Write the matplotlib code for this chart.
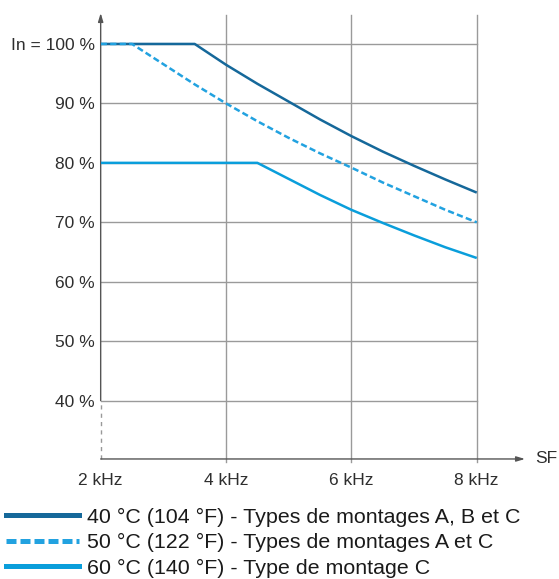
import matplotlib.pyplot as plt
from matplotlib.lines import Line2D

plt.rcParams['font.family'] = ['Liberation Sans', 'DejaVu Sans']

# courbes de déclassement (fréquence de découpage en kHz, courant en % de In)
f_40 = [2, 3.5, 4, 4.5, 5, 5.5, 6, 6.5, 7, 7.5, 8]
i_40 = [100, 100, 96.5, 93.3, 90.3, 87.3, 84.5, 81.9, 79.5, 77.2, 75]
f_50 = [2, 2.5, 3, 3.5, 4, 4.5, 5, 5.5, 6, 6.5, 7, 7.5, 8]
i_50 = [100, 100, 96.6, 93.2, 90, 87, 84.2, 81.6, 79.2, 76.7, 74.4, 72.1, 70]
f_60 = [2, 4.5, 5, 5.5, 6, 6.5, 7, 7.5, 8]
i_60 = [80, 80, 77.3, 74.6, 72.1, 69.9, 67.8, 65.8, 64]

x_ticks = [2, 4, 6, 8]
x_labels = ['2 kHz', '4 kHz', '6 kHz', '8 kHz']
y_ticks = [40, 50, 60, 70, 80, 90, 100]
y_labels = ['40 %', '50 %', '60 %', '70 %', '80 %', '90 %', 'In = 100 %']
labels = ['40 °C (104 °F) - Types de montages A, B et C',
          '50 °C (122 °F) - Types de montages A et C',
          '60 °C (140 °F) - Type de montage C']

dark = '#15689a'
light = '#22a2e0'
cyan = '#0a9edb'
grid_c = '#9a9a9a'
txt = '#2e2e2e'

fig = plt.figure(figsize=(5.59, 5.79), dpi=100)
ax = fig.add_axes([0.1801, 0.2073, 0.7591, 0.7702])
x_min, x_max = 2, 8.77
y_min, y_max = 30.2, 105.2
ax.set_xlim(x_min, x_max)
ax.set_ylim(y_min, y_max)
for s in ax.spines.values():
    s.set_visible(False)

# grille
for x in x_ticks[1:]:
    ax.plot([x, x], [y_min - 0.5, 104.9], color=grid_c, lw=1.0, zorder=1, clip_on=False)
for y in y_ticks:
    ax.plot([2, 8], [y, y], color=grid_c, lw=1.0, zorder=1)

# axes avec flèches
ax.annotate('', xy=(x_max, y_min), xytext=(2, y_min),
            arrowprops=dict(arrowstyle='-|>,head_length=0.5,head_width=0.15', color='#555555', lw=1.0,
                            shrinkA=0, shrinkB=0), annotation_clip=False)
ax.annotate('', xy=(2, y_max), xytext=(2, 40),
            arrowprops=dict(arrowstyle='-|>,head_length=0.5,head_width=0.15', color='#555555', lw=1.0,
                            shrinkA=0, shrinkB=0), annotation_clip=False)
ax.plot([2, 2], [y_min, 40], color='#999999', lw=1.0, ls=(0, (3, 3)), clip_on=False)
ax.text(8.93, y_min, 'SF', ha='left', va='center', fontsize=12.5, color=txt)

# courbes
ax.plot(f_40, i_40, color=dark, lw=1.8, zorder=3, solid_capstyle='butt')
ax.plot(f_50, i_50, color=light, lw=1.8, ls=(0, (2.5, 1.3)), zorder=4)
ax.plot(f_60, i_60, color=cyan, lw=1.8, zorder=3, solid_capstyle='butt')

ax.set_xticks(x_ticks)
ax.set_xticklabels(x_labels)
ax.set_yticks(y_ticks)
ax.set_yticklabels(y_labels)
ax.tick_params(length=0, labelsize=12.5, labelcolor=txt)
ax.tick_params(axis='x', pad=10)
ax.tick_params(axis='y', pad=4)

# légende
handles = [Line2D([], [], color=dark, lw=3.6),
           Line2D([], [], color=light, lw=3.6, ls=(0, (2, 0.8))),
           Line2D([], [], color=cyan, lw=3.6)]
fig.legend(handles, labels, loc='upper left', bbox_to_anchor=(0.011, 0.123),
           frameon=False, fontsize=15.4, handlelength=3.4, handletextpad=0.37,
           labelspacing=0.3, borderaxespad=0, borderpad=0, labelcolor='#1a1a1a')

fig.savefig('out.png', dpi=100)
